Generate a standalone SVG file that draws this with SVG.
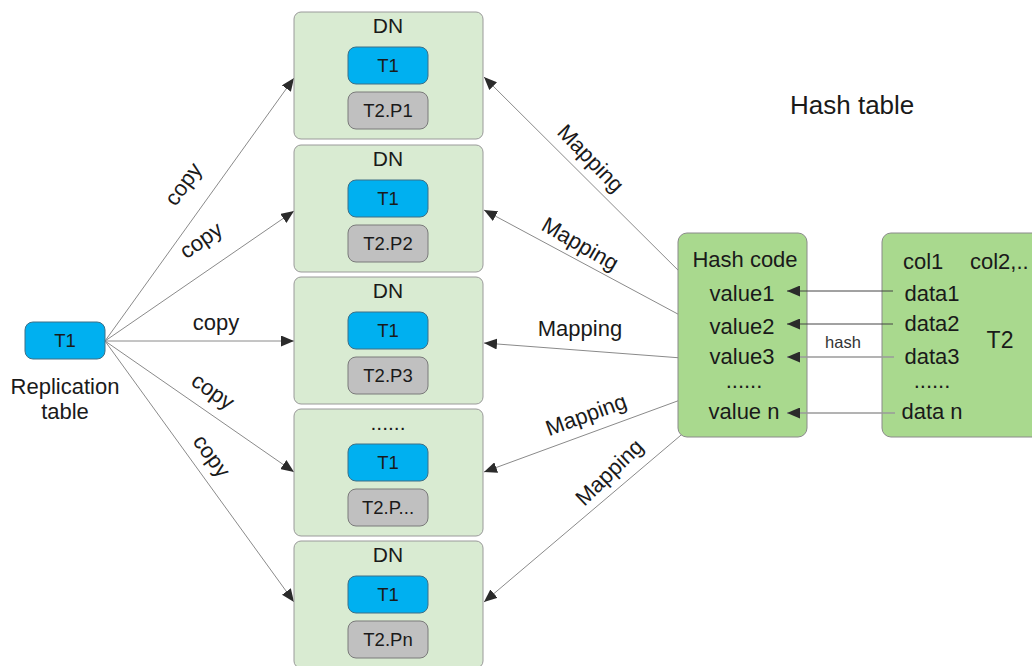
<svg xmlns="http://www.w3.org/2000/svg" width="1032" height="666" viewBox="0 0 1032 666">
<style>
text{font-family:"Liberation Sans",Arial,sans-serif;fill:#1a1a1a}
.t21{font-size:22px}
.dnt{font-size:21px}
.t18{font-size:18.5px}
.mid{text-anchor:middle}
.dn{fill:#d9ebd2;stroke:#9a9a9a;stroke-width:1}
.t1{fill:#00b0f0;stroke:#3f6f85;stroke-width:1}
.t2{fill:#c0c0c0;stroke:#7a7a7a;stroke-width:1}
.hb{fill:#a9d98e;stroke:#8a8a8a;stroke-width:1}
.ln{stroke:#8a8a8a;stroke-width:1;fill:none}
.lnd{stroke:#444;stroke-width:1;fill:none}
.lnl{stroke:#9a9a9a;stroke-width:1.5;fill:none}
</style>
<defs>
<marker id="ah" markerUnits="userSpaceOnUse" markerWidth="14" markerHeight="11" refX="13" refY="5.5" orient="auto">
<path d="M0,0 L13,5.5 L0,11 z" fill="#2b2b2b"/>
</marker>
</defs>
<rect width="1032" height="666" fill="#ffffff"/>

<g id="connectors">
<line class="ln" x1="105" y1="341" x2="294" y2="78" marker-end="url(#ah)"/>
<line class="ln" x1="105" y1="341" x2="294" y2="211" marker-end="url(#ah)"/>
<line class="ln" x1="105" y1="341" x2="294" y2="341" marker-end="url(#ah)"/>
<line class="ln" x1="105" y1="341" x2="294" y2="472" marker-end="url(#ah)"/>
<line class="ln" x1="105" y1="341" x2="294" y2="602" marker-end="url(#ah)"/>
<line class="ln" x1="700" y1="292" x2="484" y2="77" marker-end="url(#ah)"/>
<line class="ln" x1="702" y1="327" x2="484" y2="210" marker-end="url(#ah)"/>
<line class="ln" x1="695" y1="359" x2="484" y2="343" marker-end="url(#ah)"/>
<line class="ln" x1="702" y1="392" x2="484" y2="472" marker-end="url(#ah)"/>
<line class="ln" x1="700" y1="419" x2="484" y2="602" marker-end="url(#ah)"/>
<text class="t21 mid" transform="translate(186,186) rotate(-54)" y="4">copy</text>
<text class="t21 mid" transform="translate(203,243) rotate(-35)" y="4">copy</text>
<text class="t21 mid" x="216" y="330">copy</text>
<text class="t21 mid" transform="translate(211,394) rotate(35)" y="4">copy</text>
<text class="t21 mid" transform="translate(209,458) rotate(54)" y="4">copy</text>
<text class="t21 mid" transform="translate(589,160) rotate(46)" y="5">Mapping</text>
<text class="t21 mid" transform="translate(579,246) rotate(30)" y="5">Mapping</text>
<text class="t21 mid" x="580" y="336">Mapping</text>
<text class="t21 mid" transform="translate(587,417) rotate(-20)" y="5">Mapping</text>
<text class="t21 mid" transform="translate(611,474) rotate(-44)" y="5">Mapping</text>
</g>

<g id="replication">
<rect class="t1" x="25" y="322" width="80" height="37" rx="8"/>
<text class="t18 mid" x="65" y="347">T1</text>
<text class="mid" style="font-size:22px" x="65" y="394">Replication</text>
<text class="mid" style="font-size:22px" x="65" y="419">table</text>
</g>

<g id="dn1">
<rect class="dn" x="294" y="12" width="189" height="127" rx="7"/>
<text class="dnt mid" x="388" y="33">DN</text>
<rect class="t1" x="348" y="47" width="80" height="37" rx="8"/>
<text class="t18 mid" x="388" y="72">T1</text>
<rect class="t2" x="348" y="92" width="80" height="37" rx="8"/>
<text class="t18 mid" x="388" y="117">T2.P1</text>
</g>
<g id="dn2">
<rect class="dn" x="294" y="145" width="189" height="127" rx="7"/>
<text class="dnt mid" x="388" y="166">DN</text>
<rect class="t1" x="348" y="180" width="80" height="37" rx="8"/>
<text class="t18 mid" x="388" y="205">T1</text>
<rect class="t2" x="348" y="225" width="80" height="37" rx="8"/>
<text class="t18 mid" x="388" y="250">T2.P2</text>
</g>
<g id="dn3">
<rect class="dn" x="294" y="277" width="189" height="127" rx="7"/>
<text class="dnt mid" x="388" y="298">DN</text>
<rect class="t1" x="348" y="312" width="80" height="37" rx="8"/>
<text class="t18 mid" x="388" y="337">T1</text>
<rect class="t2" x="348" y="357" width="80" height="37" rx="8"/>
<text class="t18 mid" x="388" y="382">T2.P3</text>
</g>
<g id="dn4">
<rect class="dn" x="294" y="409" width="189" height="127" rx="7"/>
<text class="dnt mid" x="388" y="430">......</text>
<rect class="t1" x="348" y="444" width="80" height="37" rx="8"/>
<text class="t18 mid" x="388" y="469">T1</text>
<rect class="t2" x="348" y="489" width="80" height="37" rx="8"/>
<text class="t18 mid" x="388" y="514">T2.P...</text>
</g>
<g id="dn5">
<rect class="dn" x="294" y="541" width="189" height="127" rx="7"/>
<text class="dnt mid" x="388" y="562">DN</text>
<rect class="t1" x="348" y="576" width="80" height="37" rx="8"/>
<text class="t18 mid" x="388" y="601">T1</text>
<rect class="t2" x="348" y="621" width="80" height="37" rx="8"/>
<text class="t18 mid" x="388" y="646">T2.Pn</text>
</g>

<text id="hashtitle" style="font-size:26px" x="790" y="114">Hash table</text>

<g id="hashcode">
<rect class="hb" x="678" y="233" width="129" height="204" rx="9"/>
<text class="t21 mid" x="745" y="267">Hash code</text>
<text class="t21 mid" x="742" y="301">value1</text>
<text class="t21 mid" x="742" y="334">value2</text>
<text class="t21 mid" x="742" y="364">value3</text>
<text class="t21 mid" x="744" y="388">......</text>
<text class="t21 mid" x="744" y="419">value n</text>
</g>

<g id="t2">
<rect class="hb" x="882" y="233" width="165" height="204" rx="9"/>
<text class="t21" x="903" y="269">col1</text>
<text class="t21" x="970" y="269">col2,..</text>
<text class="t21 mid" x="932" y="301">data1</text>
<text class="t21 mid" x="932" y="331">data2</text>
<text class="t21 mid" x="932" y="364">data3</text>
<text class="t21 mid" x="932" y="388">......</text>
<text class="t21 mid" x="932" y="419">data n</text>
<text class="mid" style="font-size:23px" x="1000" y="348">T2</text>
</g>

<g id="hash-connectors">
<line class="lnd" x1="893" y1="291" x2="787" y2="291" marker-end="url(#ah)"/>
<line class="lnd" x1="893" y1="324" x2="787" y2="324" marker-end="url(#ah)"/>
<line class="lnl" x1="894" y1="357" x2="787" y2="357" marker-end="url(#ah)"/>
<line class="lnl" x1="895" y1="413" x2="787" y2="413" marker-end="url(#ah)"/>
<text class="mid" style="font-size:16.5px;fill:#333" x="843" y="348">hash</text>
</g>
</svg>
